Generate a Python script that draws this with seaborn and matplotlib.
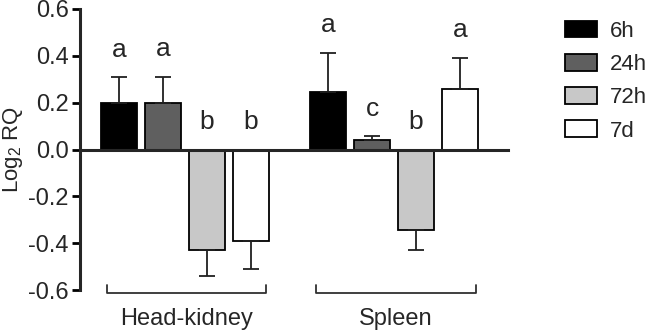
import matplotlib
matplotlib.use("Agg")
import matplotlib.pyplot as plt
import seaborn as sns
import pandas as pd
import numpy as np

tissues = ["Head-kidney", "Spleen"]
times = ["6h", "24h", "72h", "7d"]
hk_means = [0.197, 0.200, -0.430, -0.390]
hk_sem = [0.112, 0.110, 0.110, 0.120]
sp_means = [0.244, 0.040, -0.343, 0.257]
sp_sem = [0.170, 0.016, 0.088, 0.135]
hk_letters = ["a", "a", "b", "b"]
sp_letters = ["a", "c", "b", "a"]
colors = ["#000000", "#5f5f5f", "#c8c8c8", "#ffffff"]
yticks = [-0.6, -0.4, -0.2, 0.0, 0.2, 0.4, 0.6]

df = pd.DataFrame({
    "tissue": [tissues[0]] * 4 + [tissues[1]] * 4,
    "time": times * 2,
    "mean": hk_means + sp_means,
    "sem": hk_sem + sp_sem,
    "letter": hk_letters + sp_letters,
})

sns.set_style("ticks")
plt.rcParams["font.family"] = ["Liberation Sans", "DejaVu Sans"]
plt.rcParams["mathtext.fontset"] = "custom"
plt.rcParams["mathtext.rm"] = "Liberation Sans"
plt.rcParams["mathtext.it"] = "Liberation Sans:italic"

fig = plt.figure(figsize=(6.5, 3.33), dpi=100)
ax = fig.add_axes([0.123, 0.129, 0.6585, 0.844])

sns.barplot(data=df, x="tissue", y="mean", hue="time", order=tissues, hue_order=times,
            palette=colors, width=0.84, gap=0.18, errorbar=None, edgecolor="black",
            linewidth=1.3, ax=ax, legend=True, saturation=1)

bar_containers = list(ax.containers)
for hi, cont in enumerate(bar_containers):
    for ti, bar in enumerate(cont):
        row = df[(df.tissue == tissues[ti]) & (df.time == times[hi])].iloc[0]
        xc = bar.get_x() + bar.get_width() / 2
        m, e = row["mean"], row["sem"]
        yerr = [[0], [e]] if m >= 0 else [[e], [0]]
        ax.errorbar([xc], [m], yerr=yerr, fmt="none", ecolor="#202020", elinewidth=1.3,
                    capsize=6, capthick=1.3, zorder=1)
        ytxt = max(0, m + e) + 0.088
        ax.text(xc, ytxt, row["letter"], ha="center", va="baseline", fontsize=19)

ax.set_xlim(-0.502, 1.545)
ax.set_ylim(-0.6, 0.6)
ax.set_yticks(yticks)
ax.set_yticklabels([f"{t:.1f}" for t in yticks], fontsize=17)
ax.set_ylabel(r"Log$_2$ RQ", fontsize=16, labelpad=2)
ax.set_xlabel("")
ax.set_xticks([])
ax.tick_params(axis="y", direction="out", length=6, width=2, color="black", pad=2)
ax.spines["left"].set_linewidth(2.2)
ax.spines["bottom"].set_position(("data", 0))
ax.spines["bottom"].set_linewidth(2.2)
ax.spines["bottom"].set_zorder(3)
sns.despine(ax=ax, top=True, right=True)

for i, t in enumerate(tissues):
    x0, x1 = i - 0.375, i + 0.39
    ax.plot([x0, x0, x1, x1], [-0.578, -0.612, -0.612, -0.578], color="#303030", lw=1.3,
            clip_on=False)
    ax.text((x0 + x1) / 2, -0.725, t, ha="center", va="center", fontsize=17)

leg = ax.get_legend()
handles = leg.legend_handles
leg.remove()
fig.legend(handles, times, loc="upper left", bbox_to_anchor=(0.855, 0.965), frameon=False,
           fontsize=16, handlelength=1.45, handleheight=0.78, labelspacing=0.55,
           handletextpad=0.6, borderaxespad=0)

fig.savefig("out.png", dpi=100)
